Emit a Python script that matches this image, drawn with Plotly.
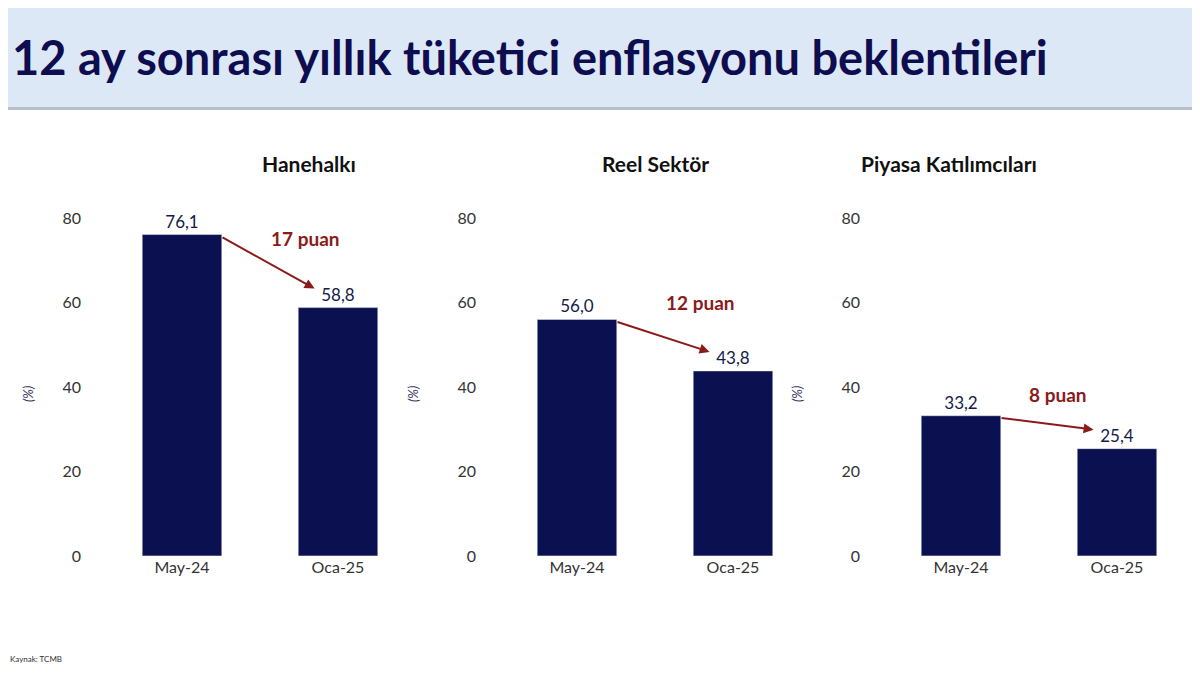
import plotly.graph_objects as go

months = ["May-24", "Oca-25"]
panels = ["Hanehalkı", "Reel Sektör", "Piyasa Katılımcıları"]
may24 = [76.1, 56.0, 33.2]
oca25 = [58.8, 43.8, 25.4]
point_labels = ["17 puan", "12 puan", "8 puan"]
y_ticks = [0, 20, 40, 60, 80]

BAR = "#0b1150"
NAVY = "#141a4a"
RED = "#8b1a1a"
FONT = "Lato"

fig = go.Figure()
x_domains = [(96 / 1200, 408 / 1200), (491 / 1200, 803 / 1200), (875 / 1200, 1187 / 1200)]
label_x = [0.79, 0.79, 0.62]
label_dy = [-1, 4, 5]

for i, name in enumerate(panels):
    sfx = "" if i == 0 else str(i + 1)
    vals = [may24[i], oca25[i]]
    fig.add_trace(go.Bar(
        x=[0, 1], y=vals, marker_color=BAR, width=0.51,
        text=[f"{v:.1f}".replace(".", ",") for v in vals],
        textposition="outside", cliponaxis=False,
        textfont=dict(size=17, color=NAVY, family=FONT),
        xaxis="x" + sfx, yaxis="y" + sfx, showlegend=False,
    ))
    fig.update_layout({
        "xaxis" + sfx: dict(domain=x_domains[i], range=[-0.5, 1.5], tickvals=[0, 1], ticktext=months,
                            showline=False, showgrid=False, zeroline=False, anchor="y" + sfx,
                            tickfont=dict(size=16, color="#333333", family=FONT)),
        "yaxis" + sfx: dict(domain=[0.18, 0.695], range=[0, 80], tickvals=y_ticks,
                            showgrid=False, zeroline=False, anchor="x" + sfx, ticklen=0,
                            ticklabelstandoff=22,
                            tickfont=dict(size=16, color="#333333", family=FONT)),
    })
    xr = "x" + sfx
    yr = "y" + sfx
    # arrow
    fig.add_annotation(x=0.85, y=oca25[i] + 4.5, ax=0.25, ay=may24[i] - 0.5,
                       xref=xr, yref=yr, axref=xr, ayref=yr, text="", showarrow=True,
                       arrowhead=2, arrowsize=1, arrowwidth=2, arrowcolor=RED)
    fig.add_annotation(x=label_x[i], y=may24[i] + label_dy[i], xref=xr, yref=yr, text=f"<b>{point_labels[i]}</b>",
                       showarrow=False, font=dict(size=19, color=RED, family=FONT))
    # panel title
    fig.add_annotation(x=sum(x_domains[i]) / 2, y=(675 - 150) / 675, xref="paper", yref="paper",
                       yanchor="middle", text=f"<b>{name}</b>", showarrow=False,
                       font=dict(size=21, color="#111111", family=FONT))
    # y axis title
    fig.add_annotation(x=(x_domains[i][0] * 1200 - 86) / 1200, y=(675 - 387) / 675,
                       xref="paper", yref="paper", text="<i>(%)</i>", textangle=-90,
                       showarrow=False, font=dict(size=13, color="#333366", family=FONT))

# banner
fig.add_shape(type="rect", xref="paper", yref="paper", x0=0, x1=1, y0=(675 - 93) / 675, y1=1.05,
              fillcolor="#dde8f6", line=dict(width=0), layer="below")
fig.add_shape(type="line", xref="paper", yref="paper", x0=0, x1=1, y0=(675 - 93) / 675, y1=(675 - 93) / 675,
              line=dict(color="#b8bfcc", width=3))
fig.add_annotation(x=2 / 1200, y=(675 - 40) / 675, xref="paper", yref="paper", xanchor="left",
                   yanchor="middle", text="<b>12 ay sonrası yıllık tüketici enflasyonu beklentileri</b>",
                   showarrow=False, font=dict(size=47, color="#0d0d4f", family=FONT))
fig.add_annotation(x=0, y=(675 - 660) / 675, xref="paper", yref="paper", xanchor="left",
                   yanchor="middle", text="Kaynak: TCMB", showarrow=False,
                   font=dict(size=8, color="#333333", family=FONT))

fig.update_layout(width=1200, height=675, margin=dict(l=0, r=0, t=0, b=0),
                  plot_bgcolor="white", paper_bgcolor="white")
fig.write_html("out.html")
